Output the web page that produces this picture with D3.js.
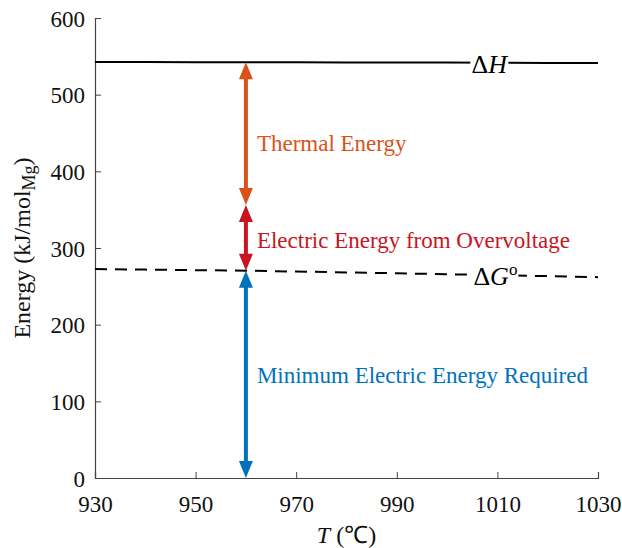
<!DOCTYPE html>
<html>
<head>
<meta charset="utf-8">
<script src="https://cdnjs.cloudflare.com/ajax/libs/d3/7.8.5/d3.min.js"></script>
</head>
<body style="margin:0; background:#fff">
<div id="chart"></div>
<script>
// temperatures (°C) and energies (kJ/mol Mg)
const temps = [930, 940, 950, 960, 970, 980, 990, 1000, 1010, 1020, 1030];
const dH = [542.6, 542.5, 542.4, 542.3, 542.2, 542.1, 542.0, 541.8, 541.6, 541.4, 541.2];
const dG = [272.6, 271.8, 271.1, 270.4, 269.3, 268.2, 267.0, 265.8, 264.5, 263.3, 262.0];

const xTicks = [930, 950, 970, 990, 1010, 1030];
const yTicks = [0, 100, 200, 300, 400, 500, 600];

// energy arrows at T = 960
const arrowT = 960;
const arrows = [
  { name: "Thermal Energy", from: 542.3, to: 356, color: "#D95319", labelY: 437 },
  { name: "Electric Energy from Overvoltage", from: 356, to: 270.4, color: "#C8141E", labelY: 311 },
  { name: "Minimum Electric Energy Required", from: 270.4, to: 0, color: "#0072BD", labelY: 134 }
];

const FONT = '"Liberation Serif", "Tinos", "Times New Roman"';
const margin = { top: 18, right: 24, bottom: 70, left: 95 },
      W = 622, H = 548,
      width = W - margin.left - margin.right,
      height = H - margin.top - margin.bottom;

const svg = d3.select("#chart").append("svg")
  .attr("width", W).attr("height", H);
const g = svg.append("g").attr("transform", `translate(${margin.left},${margin.top})`);

const x = d3.scaleLinear().domain([930, 1030]).range([0, width]);
const y = d3.scaleLinear().domain([0, 600]).range([height, 0]);

// axes, inward ticks
const xAxis = g.append("g")
  .attr("transform", `translate(0,${height})`)
  .call(d3.axisBottom(x).tickValues(xTicks).tickSize(-6).tickPadding(18).tickFormat(d3.format("d")));
const yAxis = g.append("g")
  .call(d3.axisLeft(y).tickValues(yTicks).tickSize(-6).tickPadding(10));
[xAxis, yAxis].forEach(a => {
  a.attr("font-size", 23);
  a.select(".domain").attr("stroke", "#444").attr("stroke-width", 1.2);
  a.selectAll(".tick line").attr("stroke", "#444");
  a.selectAll("text").attr("fill", "#111");
});
yAxis.selectAll("text").attr("dy", "0.35em");

const line = d3.line().x(d => x(d[0])).y(d => y(d[1]));

g.append("path")
  .datum(temps.map((t, i) => [t, dH[i]]))
  .attr("d", line).attr("fill", "none").attr("stroke", "#000").attr("stroke-width", 2);

g.append("path")
  .datum(temps.map((t, i) => [t, dG[i]]))
  .attr("d", line).attr("fill", "none").attr("stroke", "#000").attr("stroke-width", 2)
  .attr("stroke-dasharray", "12,8");

// arrows
const headLen = 17, headHalf = 7;
arrows.forEach(a => {
  const ax = x(arrowT), yTop = y(a.from), yBot = y(a.to);
  g.append("line")
    .attr("x1", ax).attr("x2", ax)
    .attr("y1", yTop + headLen - 2).attr("y2", yBot - headLen + 2)
    .attr("stroke", a.color).attr("stroke-width", 4);
  g.append("path")
    .attr("d", `M${ax},${yTop} L${ax - headHalf},${yTop + headLen} L${ax + headHalf},${yTop + headLen}Z`)
    .attr("fill", a.color);
  g.append("path")
    .attr("d", `M${ax},${yBot} L${ax - headHalf},${yBot - headLen} L${ax + headHalf},${yBot - headLen}Z`)
    .attr("fill", a.color);
  g.append("text")
    .attr("x", ax + 11).attr("y", y(a.labelY)).attr("dy", "0.35em")
    .attr("font-size", 23).attr("fill", a.color)
    .text(a.name);
});

// curve labels with white backing
function curveLabel(t, val, parts, w) {
  const cx = x(t), cy = y(val);
  g.append("rect").attr("x", cx - w / 2).attr("y", cy - 12).attr("width", w).attr("height", 24)
    .attr("fill", "#fff");
  const txt = g.append("text").attr("x", cx).attr("y", cy).attr("dy", "0.38em")
    .attr("text-anchor", "middle").attr("font-size", 26).attr("fill", "#000");
  parts.forEach(p => {
    const s = txt.append("tspan").text(p.t);
    if (p.i) s.attr("font-style", "italic");
    if (p.sup) s.attr("font-size", 17).attr("baseline-shift", "60%");
  });
}
curveLabel(1008.4, 541.6, [{ t: "Δ" }, { t: "H", i: true }], 38);
curveLabel(1009.6, 264.2, [{ t: "Δ" }, { t: "G", i: true }, { t: "o", sup: true }], 46);

// axis titles
const xt = svg.append("text")
  .attr("x", margin.left + x(980)).attr("y", 543)
  .attr("text-anchor", "middle").attr("font-size", 24).attr("fill", "#111");
xt.append("tspan").attr("font-style", "italic").text("T");
xt.append("tspan").text(" (℃)");

const yt = svg.append("text")
  .attr("transform", `translate(30,${margin.top + y(300)}) rotate(-90)`)
  .attr("text-anchor", "middle").attr("font-size", 24).attr("fill", "#111");
yt.append("tspan").text("Energy (kJ/mol");
yt.append("tspan").attr("font-size", 18).attr("baseline-shift", "-30%").text("Mg");
yt.append("tspan").text(")");

// serif face on every text
svg.selectAll("text").attr("font-family", FONT).style("font-family", FONT);
</script>
</body>
</html>
